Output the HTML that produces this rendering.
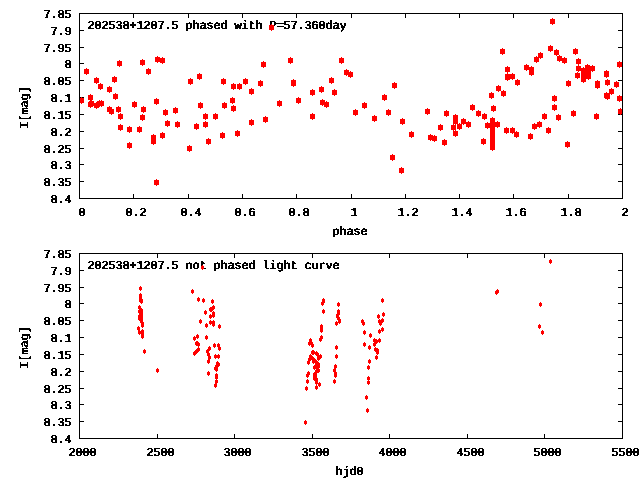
<!DOCTYPE html>
<html><head><meta charset="utf-8"><title>202538+1207.5</title>
<style>html,body{margin:0;padding:0;background:#fff;}svg{display:block;}</style>
</head><body>
<svg width="640" height="480" viewBox="0 0 640 480"><defs><filter id="c" x="0" y="0" width="640" height="480" filterUnits="userSpaceOnUse"><feOffset in="SourceGraphic" dx="1" dy="0" result="o"/><feMerge result="m"><feMergeNode in="SourceGraphic"/><feMergeNode in="o"/></feMerge><feComponentTransfer in="m"><feFuncA type="discrete" tableValues="0 1"/></feComponentTransfer></filter><filter id="r" x="0" y="0" width="640" height="480" filterUnits="userSpaceOnUse"><feOffset in="SourceGraphic" dx="0" dy="-1" result="o"/><feMerge result="m"><feMergeNode in="SourceGraphic"/><feMergeNode in="o"/></feMerge><feComponentTransfer in="m"><feFuncA type="discrete" tableValues="0 1"/></feComponentTransfer></filter></defs><rect width="640" height="480" fill="#fff"/><g filter="url(#c)" text-rendering="geometricPrecision" font-family="&quot;Liberation Mono&quot;, monospace" font-weight="normal" font-size="12.0" letter-spacing="-0.200" fill="#000"><text x="43" y="18">7.85</text><text x="50" y="35">7.9</text><text x="43" y="52">7.95</text><text x="64" y="68">8</text><text x="43" y="85">8.05</text><text x="50" y="102">8.1</text><text x="43" y="119">8.15</text><text x="50" y="136">8.2</text><text x="43" y="153">8.25</text><text x="50" y="169">8.3</text><text x="43" y="186">8.35</text><text x="50" y="203">8.4</text><text x="78" y="216">0</text><text x="125" y="216">0.2</text><text x="180" y="216">0.4</text><text x="234" y="216">0.6</text><text x="288" y="216">0.8</text><text x="350" y="216">1</text><text x="397" y="216">1.2</text><text x="451" y="216">1.4</text><text x="505" y="216">1.6</text><text x="560" y="216">1.8</text><text x="621" y="216">2</text><text x="332" y="235">phase</text><text x="87" y="29">202538+1207.5 phased with P=57.360day</text><text x="43" y="258">7.85</text><text x="50" y="275">7.9</text><text x="43" y="292">7.95</text><text x="64" y="308">8</text><text x="43" y="325">8.05</text><text x="50" y="342">8.1</text><text x="43" y="359">8.15</text><text x="50" y="376">8.2</text><text x="43" y="393">8.25</text><text x="50" y="409">8.3</text><text x="43" y="426">8.35</text><text x="50" y="443">8.4</text><text x="68" y="456">2000</text><text x="146" y="456">2500</text><text x="223" y="456">3000</text><text x="301" y="456">3500</text><text x="378" y="456">4000</text><text x="456" y="456">4500</text><text x="533" y="456">5000</text><text x="611" y="456">5500</text><text x="335" y="475">hjd0</text><text x="87" y="269">202538+1207.5 not phased light curve</text></g><g filter="url(#r)" text-rendering="geometricPrecision" font-family="&quot;Liberation Mono&quot;, monospace" font-weight="normal" font-size="12.0" letter-spacing="-0.200" fill="#000"><text transform="translate(28.0 108.0) rotate(-90)" text-anchor="middle">I[mag]</text><text transform="translate(28.0 348.0) rotate(-90)" text-anchor="middle">I[mag]</text></g><g fill="#000" shape-rendering="crispEdges"><rect x="80" y="30" width="4" height="1"/><rect x="618" y="30" width="4" height="1"/><rect x="80" y="47" width="4" height="1"/><rect x="618" y="47" width="4" height="1"/><rect x="80" y="63" width="4" height="1"/><rect x="618" y="63" width="4" height="1"/><rect x="80" y="80" width="4" height="1"/><rect x="618" y="80" width="4" height="1"/><rect x="80" y="97" width="4" height="1"/><rect x="618" y="97" width="4" height="1"/><rect x="80" y="114" width="4" height="1"/><rect x="618" y="114" width="4" height="1"/><rect x="80" y="131" width="4" height="1"/><rect x="618" y="131" width="4" height="1"/><rect x="80" y="148" width="4" height="1"/><rect x="618" y="148" width="4" height="1"/><rect x="80" y="164" width="4" height="1"/><rect x="618" y="164" width="4" height="1"/><rect x="80" y="181" width="4" height="1"/><rect x="618" y="181" width="4" height="1"/><rect x="133" y="14" width="1" height="4"/><rect x="133" y="194" width="1" height="4"/><rect x="188" y="14" width="1" height="4"/><rect x="188" y="194" width="1" height="4"/><rect x="242" y="14" width="1" height="4"/><rect x="242" y="194" width="1" height="4"/><rect x="296" y="14" width="1" height="4"/><rect x="296" y="194" width="1" height="4"/><rect x="351" y="14" width="1" height="4"/><rect x="351" y="194" width="1" height="4"/><rect x="405" y="14" width="1" height="4"/><rect x="405" y="194" width="1" height="4"/><rect x="459" y="14" width="1" height="4"/><rect x="459" y="194" width="1" height="4"/><rect x="513" y="14" width="1" height="4"/><rect x="513" y="194" width="1" height="4"/><rect x="568" y="14" width="1" height="4"/><rect x="568" y="194" width="1" height="4"/><rect x="80" y="270" width="4" height="1"/><rect x="618" y="270" width="4" height="1"/><rect x="80" y="287" width="4" height="1"/><rect x="618" y="287" width="4" height="1"/><rect x="80" y="303" width="4" height="1"/><rect x="618" y="303" width="4" height="1"/><rect x="80" y="320" width="4" height="1"/><rect x="618" y="320" width="4" height="1"/><rect x="80" y="337" width="4" height="1"/><rect x="618" y="337" width="4" height="1"/><rect x="80" y="354" width="4" height="1"/><rect x="618" y="354" width="4" height="1"/><rect x="80" y="371" width="4" height="1"/><rect x="618" y="371" width="4" height="1"/><rect x="80" y="388" width="4" height="1"/><rect x="618" y="388" width="4" height="1"/><rect x="80" y="404" width="4" height="1"/><rect x="618" y="404" width="4" height="1"/><rect x="80" y="421" width="4" height="1"/><rect x="618" y="421" width="4" height="1"/><rect x="157" y="254" width="1" height="4"/><rect x="157" y="434" width="1" height="4"/><rect x="234" y="254" width="1" height="4"/><rect x="234" y="434" width="1" height="4"/><rect x="312" y="254" width="1" height="4"/><rect x="312" y="434" width="1" height="4"/><rect x="389" y="254" width="1" height="4"/><rect x="389" y="434" width="1" height="4"/><rect x="467" y="254" width="1" height="4"/><rect x="467" y="434" width="1" height="4"/><rect x="544" y="254" width="1" height="4"/><rect x="544" y="434" width="1" height="4"/></g><path fill="#f00" shape-rendering="crispEdges" d="M79 98h5v5h-5zM81 97h1v7h-1zM84 69h5v5h-5zM86 68h1v7h-1zM88 95h5v5h-5zM90 94h1v7h-1zM88 102h5v5h-5zM90 101h1v7h-1zM89 101h5v5h-5zM91 100h1v7h-1zM94 103h5v5h-5zM96 102h1v7h-1zM97 101h5v5h-5zM99 100h1v7h-1zM99 101h5v5h-5zM101 100h1v7h-1zM94 78h5v5h-5zM96 77h1v7h-1zM98 84h5v5h-5zM100 83h1v7h-1zM107 87h5v5h-5zM109 86h1v7h-1zM112 77h5v5h-5zM114 76h1v7h-1zM117 61h5v5h-5zM119 60h1v7h-1zM113 94h5v5h-5zM115 93h1v7h-1zM140 60h5v5h-5zM142 59h1v7h-1zM146 69h5v5h-5zM148 68h1v7h-1zM107 107h5v5h-5zM109 106h1v7h-1zM109 109h5v5h-5zM111 108h1v7h-1zM116 107h5v5h-5zM118 106h1v7h-1zM118 114h5v5h-5zM120 113h1v7h-1zM118 125h5v5h-5zM120 124h1v7h-1zM127 127h5v5h-5zM129 126h1v7h-1zM127 143h5v5h-5zM129 142h1v7h-1zM132 102h5v5h-5zM134 101h1v7h-1zM137 127h5v5h-5zM139 126h1v7h-1zM141 107h5v5h-5zM143 106h1v7h-1zM140 115h5v5h-5zM142 114h1v7h-1zM151 135h5v5h-5zM153 134h1v7h-1zM151 139h5v5h-5zM153 138h1v7h-1zM160 133h5v5h-5zM162 132h1v7h-1zM165 121h5v5h-5zM167 120h1v7h-1zM175 122h5v5h-5zM177 121h1v7h-1zM154 180h5v5h-5zM156 179h1v7h-1zM155 57h5v5h-5zM157 56h1v7h-1zM160 58h5v5h-5zM162 57h1v7h-1zM188 79h5v5h-5zM190 78h1v7h-1zM197 74h5v5h-5zM199 73h1v7h-1zM221 79h5v5h-5zM223 78h1v7h-1zM154 99h5v5h-5zM156 98h1v7h-1zM163 110h5v5h-5zM165 109h1v7h-1zM173 108h5v5h-5zM175 107h1v7h-1zM187 146h5v5h-5zM189 145h1v7h-1zM194 124h5v5h-5zM196 123h1v7h-1zM198 103h5v5h-5zM200 102h1v7h-1zM203 114h5v5h-5zM205 113h1v7h-1zM203 122h5v5h-5zM205 121h1v7h-1zM213 114h5v5h-5zM215 113h1v7h-1zM206 139h5v5h-5zM208 138h1v7h-1zM220 133h5v5h-5zM222 132h1v7h-1zM222 103h5v5h-5zM224 102h1v7h-1zM269 25h5v5h-5zM271 24h1v7h-1zM261 62h5v5h-5zM263 61h1v7h-1zM288 58h5v5h-5zM290 57h1v7h-1zM231 84h5v5h-5zM233 83h1v7h-1zM237 84h5v5h-5zM239 83h1v7h-1zM243 79h5v5h-5zM245 78h1v7h-1zM249 89h5v5h-5zM251 88h1v7h-1zM258 81h5v5h-5zM260 80h1v7h-1zM230 98h5v5h-5zM232 97h1v7h-1zM231 106h5v5h-5zM233 105h1v7h-1zM249 120h5v5h-5zM251 119h1v7h-1zM263 117h5v5h-5zM265 116h1v7h-1zM277 101h5v5h-5zM279 100h1v7h-1zM291 80h5v5h-5zM293 79h1v7h-1zM291 81h5v5h-5zM293 80h1v7h-1zM296 98h5v5h-5zM298 97h1v7h-1zM235 131h5v5h-5zM237 130h1v7h-1zM339 58h5v5h-5zM341 57h1v7h-1zM344 70h5v5h-5zM346 69h1v7h-1zM348 72h5v5h-5zM350 71h1v7h-1zM329 78h5v5h-5zM331 77h1v7h-1zM310 90h5v5h-5zM312 89h1v7h-1zM319 87h5v5h-5zM321 86h1v7h-1zM332 90h5v5h-5zM334 89h1v7h-1zM320 100h5v5h-5zM322 99h1v7h-1zM324 102h5v5h-5zM326 101h1v7h-1zM310 114h5v5h-5zM312 113h1v7h-1zM353 110h5v5h-5zM355 109h1v7h-1zM362 103h5v5h-5zM364 102h1v7h-1zM372 116h5v5h-5zM374 115h1v7h-1zM392 83h5v5h-5zM394 82h1v7h-1zM382 95h5v5h-5zM384 94h1v7h-1zM386 110h5v5h-5zM388 109h1v7h-1zM425 109h5v5h-5zM427 108h1v7h-1zM444 111h5v5h-5zM446 110h1v7h-1zM400 119h5v5h-5zM402 118h1v7h-1zM409 132h5v5h-5zM411 131h1v7h-1zM390 155h5v5h-5zM392 154h1v7h-1zM399 168h5v5h-5zM401 167h1v7h-1zM428 135h5v5h-5zM430 134h1v7h-1zM432 136h5v5h-5zM434 135h1v7h-1zM438 125h5v5h-5zM440 124h1v7h-1zM442 140h5v5h-5zM444 139h1v7h-1zM453 115h5v5h-5zM455 114h1v7h-1zM453 119h5v5h-5zM455 118h1v7h-1zM451 125h5v5h-5zM453 124h1v7h-1zM453 131h5v5h-5zM455 130h1v7h-1zM457 124h5v5h-5zM459 123h1v7h-1zM461 119h5v5h-5zM463 118h1v7h-1zM466 122h5v5h-5zM468 121h1v7h-1zM470 105h5v5h-5zM472 104h1v7h-1zM476 111h5v5h-5zM478 110h1v7h-1zM482 114h5v5h-5zM484 113h1v7h-1zM489 93h5v5h-5zM491 92h1v7h-1zM496 86h5v5h-5zM498 85h1v7h-1zM501 91h5v5h-5zM503 90h1v7h-1zM491 106h5v5h-5zM493 105h1v7h-1zM485 123h5v5h-5zM487 122h1v7h-1zM495 122h5v5h-5zM497 121h1v7h-1zM504 128h5v5h-5zM506 127h1v7h-1zM510 128h5v5h-5zM512 127h1v7h-1zM514 132h5v5h-5zM516 131h1v7h-1zM515 80h5v5h-5zM517 79h1v7h-1zM481 139h5v5h-5zM483 138h1v7h-1zM500 49h5v5h-5zM502 48h1v7h-1zM505 67h5v5h-5zM507 66h1v7h-1zM505 74h5v5h-5zM507 73h1v7h-1zM505 75h5v5h-5zM507 74h1v7h-1zM510 74h5v5h-5zM512 73h1v7h-1zM524 65h5v5h-5zM526 64h1v7h-1zM529 67h5v5h-5zM531 66h1v7h-1zM529 70h5v5h-5zM531 69h1v7h-1zM534 57h5v5h-5zM536 56h1v7h-1zM538 53h5v5h-5zM540 52h1v7h-1zM548 46h5v5h-5zM550 45h1v7h-1zM554 50h5v5h-5zM556 49h1v7h-1zM557 56h5v5h-5zM559 55h1v7h-1zM562 58h5v5h-5zM564 57h1v7h-1zM573 49h5v5h-5zM575 48h1v7h-1zM576 59h5v5h-5zM578 58h1v7h-1zM576 66h5v5h-5zM578 65h1v7h-1zM575 73h5v5h-5zM577 72h1v7h-1zM566 81h5v5h-5zM568 80h1v7h-1zM585 65h5v5h-5zM587 64h1v7h-1zM590 66h5v5h-5zM592 65h1v7h-1zM581 68h5v5h-5zM583 67h1v7h-1zM581 72h5v5h-5zM583 71h1v7h-1zM581 77h5v5h-5zM583 76h1v7h-1zM586 70h5v5h-5zM588 69h1v7h-1zM586 74h5v5h-5zM588 73h1v7h-1zM604 71h5v5h-5zM606 70h1v7h-1zM604 72h5v5h-5zM606 71h1v7h-1zM605 80h5v5h-5zM607 79h1v7h-1zM595 81h5v5h-5zM597 80h1v7h-1zM595 83h5v5h-5zM597 82h1v7h-1zM614 82h5v5h-5zM616 81h1v7h-1zM609 89h5v5h-5zM611 88h1v7h-1zM617 62h5v5h-5zM619 61h1v7h-1zM550 19h5v5h-5zM552 18h1v7h-1zM604 93h5v5h-5zM606 92h1v7h-1zM605 94h5v5h-5zM607 93h1v7h-1zM617 96h5v5h-5zM619 95h1v7h-1zM618 109h5v5h-5zM620 108h1v7h-1zM571 111h5v5h-5zM573 110h1v7h-1zM594 114h5v5h-5zM596 113h1v7h-1zM552 96h5v5h-5zM554 95h1v7h-1zM552 105h5v5h-5zM554 104h1v7h-1zM542 114h5v5h-5zM544 113h1v7h-1zM556 115h5v5h-5zM558 114h1v7h-1zM537 122h5v5h-5zM539 121h1v7h-1zM532 124h5v5h-5zM534 123h1v7h-1zM546 128h5v5h-5zM548 127h1v7h-1zM528 134h5v5h-5zM530 133h1v7h-1zM565 142h5v5h-5zM567 141h1v7h-1zM490 118h5v5h-5zM492 117h1v7h-1zM490 121h5v5h-5zM492 120h1v7h-1zM490 124h5v5h-5zM492 123h1v7h-1zM490 127h5v5h-5zM492 126h1v7h-1zM490 130h5v5h-5zM492 129h1v7h-1zM490 133h5v5h-5zM492 132h1v7h-1zM490 136h5v5h-5zM492 135h1v7h-1zM490 139h5v5h-5zM492 138h1v7h-1zM490 142h5v5h-5zM492 141h1v7h-1zM490 145h5v5h-5zM492 144h1v7h-1zM490 145h5v5h-5zM492 144h1v7h-1z"/><path fill="#f00" shape-rendering="crispEdges" d="M139 287h3v3h-3zM140 286h1v5h-1zM139 294h3v3h-3zM140 293h1v5h-1zM139 297h3v3h-3zM140 296h1v5h-1zM140 299h3v3h-3zM141 298h1v5h-1zM139 299h3v3h-3zM140 298h1v5h-1zM140 300h3v3h-3zM141 299h1v5h-1zM138 306h3v3h-3zM139 305h1v5h-1zM140 309h3v3h-3zM141 308h1v5h-1zM138 310h3v3h-3zM139 309h1v5h-1zM140 312h3v3h-3zM141 311h1v5h-1zM138 315h3v3h-3zM139 314h1v5h-1zM140 315h3v3h-3zM141 314h1v5h-1zM138 317h3v3h-3zM139 316h1v5h-1zM140 318h3v3h-3zM141 317h1v5h-1zM140 320h3v3h-3zM141 319h1v5h-1zM141 322h3v3h-3zM142 321h1v5h-1zM141 324h3v3h-3zM142 323h1v5h-1zM137 327h3v3h-3zM138 326h1v5h-1zM138 331h3v3h-3zM139 330h1v5h-1zM141 330h3v3h-3zM142 329h1v5h-1zM141 332h3v3h-3zM142 331h1v5h-1zM141 335h3v3h-3zM142 334h1v5h-1zM143 350h3v3h-3zM144 349h1v5h-1zM156 369h3v3h-3zM157 368h1v5h-1zM201 266h3v3h-3zM202 265h1v5h-1zM191 290h3v3h-3zM192 289h1v5h-1zM197 298h3v3h-3zM198 297h1v5h-1zM202 299h3v3h-3zM203 298h1v5h-1zM211 300h3v3h-3zM212 299h1v5h-1zM212 306h3v3h-3zM213 305h1v5h-1zM210 308h3v3h-3zM211 307h1v5h-1zM209 308h3v3h-3zM210 307h1v5h-1zM204 311h3v3h-3zM205 310h1v5h-1zM212 312h3v3h-3zM213 311h1v5h-1zM212 314h3v3h-3zM213 313h1v5h-1zM209 315h3v3h-3zM210 314h1v5h-1zM199 320h3v3h-3zM200 319h1v5h-1zM209 321h3v3h-3zM210 320h1v5h-1zM212 321h3v3h-3zM213 320h1v5h-1zM212 323h3v3h-3zM213 322h1v5h-1zM205 324h3v3h-3zM206 323h1v5h-1zM218 325h3v3h-3zM219 324h1v5h-1zM196 335h3v3h-3zM197 334h1v5h-1zM193 337h3v3h-3zM194 336h1v5h-1zM205 336h3v3h-3zM206 335h1v5h-1zM195 342h3v3h-3zM196 341h1v5h-1zM196 342h3v3h-3zM197 341h1v5h-1zM197 343h3v3h-3zM198 342h1v5h-1zM197 348h3v3h-3zM198 347h1v5h-1zM196 349h3v3h-3zM197 348h1v5h-1zM195 350h3v3h-3zM196 349h1v5h-1zM194 351h3v3h-3zM195 350h1v5h-1zM193 352h3v3h-3zM194 351h1v5h-1zM213 344h3v3h-3zM214 343h1v5h-1zM217 344h3v3h-3zM218 343h1v5h-1zM218 347h3v3h-3zM219 346h1v5h-1zM208 347h3v3h-3zM209 346h1v5h-1zM206 350h3v3h-3zM207 349h1v5h-1zM207 353h3v3h-3zM208 352h1v5h-1zM208 356h3v3h-3zM209 355h1v5h-1zM207 360h3v3h-3zM208 359h1v5h-1zM214 355h3v3h-3zM215 354h1v5h-1zM217 355h3v3h-3zM218 354h1v5h-1zM216 362h3v3h-3zM217 361h1v5h-1zM217 363h3v3h-3zM218 362h1v5h-1zM215 365h3v3h-3zM216 364h1v5h-1zM214 367h3v3h-3zM215 366h1v5h-1zM215 368h3v3h-3zM216 367h1v5h-1zM207 372h3v3h-3zM208 371h1v5h-1zM215 374h3v3h-3zM216 373h1v5h-1zM215 376h3v3h-3zM216 375h1v5h-1zM215 380h3v3h-3zM216 379h1v5h-1zM214 384h3v3h-3zM215 383h1v5h-1zM322 299h3v3h-3zM323 298h1v5h-1zM322 300h3v3h-3zM323 299h1v5h-1zM321 302h3v3h-3zM322 301h1v5h-1zM322 310h3v3h-3zM323 309h1v5h-1zM320 325h3v3h-3zM321 324h1v5h-1zM320 328h3v3h-3zM321 327h1v5h-1zM320 329h3v3h-3zM321 328h1v5h-1zM320 336h3v3h-3zM321 335h1v5h-1zM319 338h3v3h-3zM320 337h1v5h-1zM309 339h3v3h-3zM310 338h1v5h-1zM308 342h3v3h-3zM309 341h1v5h-1zM310 342h3v3h-3zM311 341h1v5h-1zM311 344h3v3h-3zM312 343h1v5h-1zM311 351h3v3h-3zM312 350h1v5h-1zM312 351h3v3h-3zM313 350h1v5h-1zM315 352h3v3h-3zM316 351h1v5h-1zM316 353h3v3h-3zM317 352h1v5h-1zM310 356h3v3h-3zM311 355h1v5h-1zM311 357h3v3h-3zM312 356h1v5h-1zM318 356h3v3h-3zM319 355h1v5h-1zM309 355h3v3h-3zM310 354h1v5h-1zM319 355h3v3h-3zM320 354h1v5h-1zM317 357h3v3h-3zM318 356h1v5h-1zM308 358h3v3h-3zM309 357h1v5h-1zM307 361h3v3h-3zM308 360h1v5h-1zM313 359h3v3h-3zM314 358h1v5h-1zM315 361h3v3h-3zM316 360h1v5h-1zM317 363h3v3h-3zM318 362h1v5h-1zM314 365h3v3h-3zM315 364h1v5h-1zM316 367h3v3h-3zM317 366h1v5h-1zM317 369h3v3h-3zM318 368h1v5h-1zM314 372h3v3h-3zM315 371h1v5h-1zM307 372h3v3h-3zM308 371h1v5h-1zM306 374h3v3h-3zM307 373h1v5h-1zM306 380h3v3h-3zM307 379h1v5h-1zM305 387h3v3h-3zM306 386h1v5h-1zM313 373h3v3h-3zM314 372h1v5h-1zM313 376h3v3h-3zM314 375h1v5h-1zM315 379h3v3h-3zM316 378h1v5h-1zM312 360h3v3h-3zM313 359h1v5h-1zM315 363h3v3h-3zM316 362h1v5h-1zM317 365h3v3h-3zM318 364h1v5h-1zM313 366h3v3h-3zM314 365h1v5h-1zM317 369h3v3h-3zM318 368h1v5h-1zM315 370h3v3h-3zM316 369h1v5h-1zM314 375h3v3h-3zM315 374h1v5h-1zM313 377h3v3h-3zM314 376h1v5h-1zM315 378h3v3h-3zM316 377h1v5h-1zM315 380h3v3h-3zM316 379h1v5h-1zM315 381h3v3h-3zM316 380h1v5h-1zM318 383h3v3h-3zM319 382h1v5h-1zM315 386h3v3h-3zM316 385h1v5h-1zM304 421h3v3h-3zM305 420h1v5h-1zM337 303h3v3h-3zM338 302h1v5h-1zM337 310h3v3h-3zM338 309h1v5h-1zM337 312h3v3h-3zM338 311h1v5h-1zM336 314h3v3h-3zM337 313h1v5h-1zM336 315h3v3h-3zM337 314h1v5h-1zM337 317h3v3h-3zM338 316h1v5h-1zM338 319h3v3h-3zM339 318h1v5h-1zM338 320h3v3h-3zM339 319h1v5h-1zM335 322h3v3h-3zM336 321h1v5h-1zM335 346h3v3h-3zM336 345h1v5h-1zM335 355h3v3h-3zM336 354h1v5h-1zM334 365h3v3h-3zM335 364h1v5h-1zM333 369h3v3h-3zM334 368h1v5h-1zM334 372h3v3h-3zM335 371h1v5h-1zM334 374h3v3h-3zM335 373h1v5h-1zM333 380h3v3h-3zM334 379h1v5h-1zM381 299h3v3h-3zM382 298h1v5h-1zM382 313h3v3h-3zM383 312h1v5h-1zM377 315h3v3h-3zM378 314h1v5h-1zM378 320h3v3h-3zM379 319h1v5h-1zM381 319h3v3h-3zM382 318h1v5h-1zM379 322h3v3h-3zM380 321h1v5h-1zM381 328h3v3h-3zM382 327h1v5h-1zM378 330h3v3h-3zM379 329h1v5h-1zM361 320h3v3h-3zM362 319h1v5h-1zM362 322h3v3h-3zM363 321h1v5h-1zM363 331h3v3h-3zM364 330h1v5h-1zM369 334h3v3h-3zM370 333h1v5h-1zM373 339h3v3h-3zM374 338h1v5h-1zM375 340h3v3h-3zM376 339h1v5h-1zM378 339h3v3h-3zM379 338h1v5h-1zM373 343h3v3h-3zM374 342h1v5h-1zM363 343h3v3h-3zM364 342h1v5h-1zM368 346h3v3h-3zM369 345h1v5h-1zM374 348h3v3h-3zM375 347h1v5h-1zM376 349h3v3h-3zM377 348h1v5h-1zM376 351h3v3h-3zM377 350h1v5h-1zM375 356h3v3h-3zM376 355h1v5h-1zM368 360h3v3h-3zM369 359h1v5h-1zM367 366h3v3h-3zM368 365h1v5h-1zM367 377h3v3h-3zM368 376h1v5h-1zM367 381h3v3h-3zM368 380h1v5h-1zM365 396h3v3h-3zM366 395h1v5h-1zM366 409h3v3h-3zM367 408h1v5h-1zM549 260h3v3h-3zM550 259h1v5h-1zM496 290h3v3h-3zM497 289h1v5h-1zM495 291h3v3h-3zM496 290h1v5h-1zM539 303h3v3h-3zM540 302h1v5h-1zM538 325h3v3h-3zM539 324h1v5h-1zM541 331h3v3h-3zM542 330h1v5h-1z"/><g fill="#000" shape-rendering="crispEdges"><rect x="79" y="13" width="544" height="1"/><rect x="79" y="198" width="544" height="1"/><rect x="79" y="13" width="1" height="186"/><rect x="622" y="13" width="1" height="186"/><rect x="79" y="253" width="544" height="1"/><rect x="79" y="438" width="544" height="1"/><rect x="79" y="253" width="1" height="186"/><rect x="622" y="253" width="1" height="186"/></g></svg>
</body></html>
